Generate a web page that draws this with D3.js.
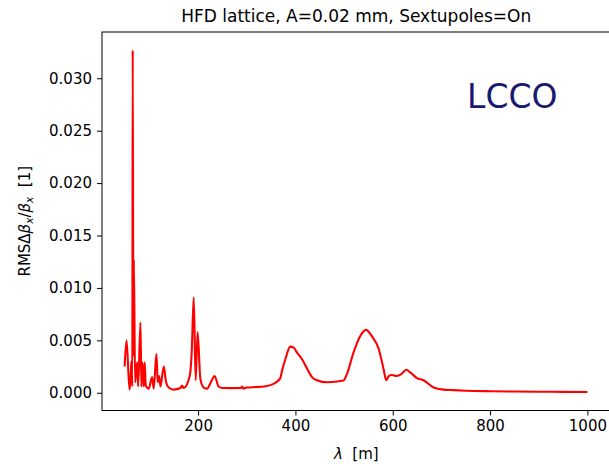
<!DOCTYPE html>
<html>
<head>
<meta charset="utf-8">
<script src="https://cdn.jsdelivr.net/npm/d3@7"></script>
<style>
  body { margin: 0; background: #fff; }
  text { font-family: "DejaVu Sans", sans-serif; }
</style>
</head>
<body>
<div id="chart"></div>
<script>
// wavelength [m]
const lambda = [
  49, 53, 59, 61, 63, 64.8, 65.6, 67, 68, 70.5, 74.7, 76.8, 81.5, 83.5, 85.6,
  88.3, 90.3, 92.4, 98.6, 105.5, 108.8, 114.4, 117, 120, 122.6, 129.4, 134.3,
  139.6, 150, 163.7, 167, 170.4, 182.7, 187, 191, 195, 199, 204.7, 211.5, 218.5,
  225, 234, 242, 250, 266, 288, 290.5, 293, 300, 320, 335, 355, 369, 372.4,
  379.3, 389.5, 396.3, 403, 413.6, 424, 434, 444.4, 465, 499, 506, 519.5, 533,
  545, 557, 571, 581, 586.6, 592, 598, 608.6, 618, 627.7, 637, 649.7, 663, 684,
  704, 725, 750, 800, 850, 900, 950, 1000
];
// RMS dbeta_x / beta_x
const rmsBeta = [
  0.0025, 0.0050, 0.0003, 0.0013, 0.0030, 0.0006, 0.0327, 0.0035, 0.0127, 0.0010,
  0.0029, 0.0006, 0.0067, 0.0006, 0.0029, 0.0006, 0.0029, 0.0007, 0.0004, 0.0015,
  0.0004, 0.0037, 0.0010, 0.0016, 0.0006, 0.0025, 0.0010, 0.0005, 0.0003, 0.00045,
  0.0007, 0.00045, 0.0016, 0.0040, 0.0091, 0.0012, 0.0058, 0.0013, 0.0005, 0.0004,
  0.0009, 0.0016, 0.0006, 0.00045, 0.00044, 0.00045, 0.0006, 0.0004, 0.0005, 0.00055,
  0.0006, 0.00085, 0.0014, 0.0021, 0.0032, 0.0044, 0.0043, 0.00385, 0.0032, 0.0023,
  0.0015, 0.0012, 0.0010, 0.00117, 0.0018, 0.00385, 0.0054, 0.0060, 0.0054, 0.0042,
  0.0023, 0.0012, 0.0016, 0.0017, 0.0016, 0.0018, 0.0022, 0.0019, 0.0014, 0.0012,
  0.0005, 0.0003, 0.00025, 0.0002, 0.00015, 0.00012, 0.0001, 0.00009, 0.00008
];
const xTicks = [200, 400, 600, 800, 1000];
const yTicks = [0, 0.005, 0.010, 0.015, 0.020, 0.025, 0.030];

let width = 609,
    height = 464,
    plotLeft = 102,
    plotTop = 32,
    plotRight = 610.5,
    plotBottom = 410.5;

const svg = d3.select('#chart').append('svg')
    .attr('width', width)
    .attr('height', height);

svg.append('rect').attr('width', width).attr('height', height).attr('fill', '#fff');

const x = d3.scaleLinear()
    .domain([2.5, 1047.5])
    .range([plotLeft, plotRight]);
const y = d3.scaleLinear()
    .domain([-0.00169, 0.03441])
    .range([plotBottom, plotTop]);

const data = lambda.map((d, i) => [d, rmsBeta[i]]);

// curve
svg.append('path')
    .datum(data)
    .attr('fill', 'none')
    .attr('stroke', 'red')
    .attr('stroke-width', 2.1)
    .attr('stroke-linejoin', 'round')
    .attr('d', d3.line()
        .x(d => x(d[0]))
        .y(d => y(d[1]))
        .curve(d3.curveMonotoneX));

// axes
const xAxis = svg.append('g')
    .attr('transform', 'translate(0,' + plotBottom + ')')
    .call(d3.axisBottom(x).tickValues(xTicks).tickSize(5).tickPadding(5).tickFormat(d3.format('d')));
const yAxis = svg.append('g')
    .attr('transform', 'translate(' + plotLeft + ',0)')
    .call(d3.axisLeft(y).tickValues(yTicks).tickSize(5).tickPadding(5).tickFormat(d3.format('.3f')));

[xAxis, yAxis].forEach(g => {
    g.select('.domain').remove();
    g.selectAll('text').attr('font-family', 'DejaVu Sans').attr('font-size', 15).attr('fill', '#000');
    g.selectAll('line').attr('stroke', '#000').attr('stroke-width', 1);
});

// frame
svg.append('rect')
    .attr('x', plotLeft).attr('y', plotTop)
    .attr('width', plotRight - plotLeft).attr('height', plotBottom - plotTop)
    .attr('fill', 'none')
    .attr('stroke', '#000')
    .attr('stroke-width', 1);

// title
svg.append('text')
    .attr('x', (plotLeft + plotRight) / 2)
    .attr('y', 22)
    .attr('text-anchor', 'middle')
    .attr('font-size', 17)
    .text('HFD lattice, A=0.02 mm, Sextupoles=On');

// big label
svg.append('text')
    .attr('x', 467)
    .attr('y', 108)
    .attr('font-size', 33)
    .attr('fill', '#191970')
    .text('LCCO');

// x label
const xl = svg.append('text')
    .attr('x', (plotLeft + plotRight) / 2)
    .attr('y', 459)
    .attr('text-anchor', 'middle')
    .attr('font-size', 15);
xl.append('tspan').attr('font-style', 'italic').text('λ');
xl.append('tspan').text('\u00a0\u00a0[m]');

// y label
const yl = svg.append('text')
    .attr('transform', 'translate(30,' + ((plotTop + plotBottom) / 2) + ') rotate(-90)')
    .attr('text-anchor', 'middle')
    .attr('font-size', 15);
yl.append('tspan').text('RMSΔ');
yl.append('tspan').attr('font-style', 'italic').text('β');
yl.append('tspan').attr('font-style', 'italic').attr('font-size', 10.5).attr('dy', 3).text('x');
yl.append('tspan').attr('dy', -3).text('/');
yl.append('tspan').attr('font-style', 'italic').text('β');
yl.append('tspan').attr('font-style', 'italic').attr('font-size', 10.5).attr('dy', 3).text('x');
yl.append('tspan').attr('dy', -3).text('\u00a0\u00a0[1]');
</script>
</body>
</html>
